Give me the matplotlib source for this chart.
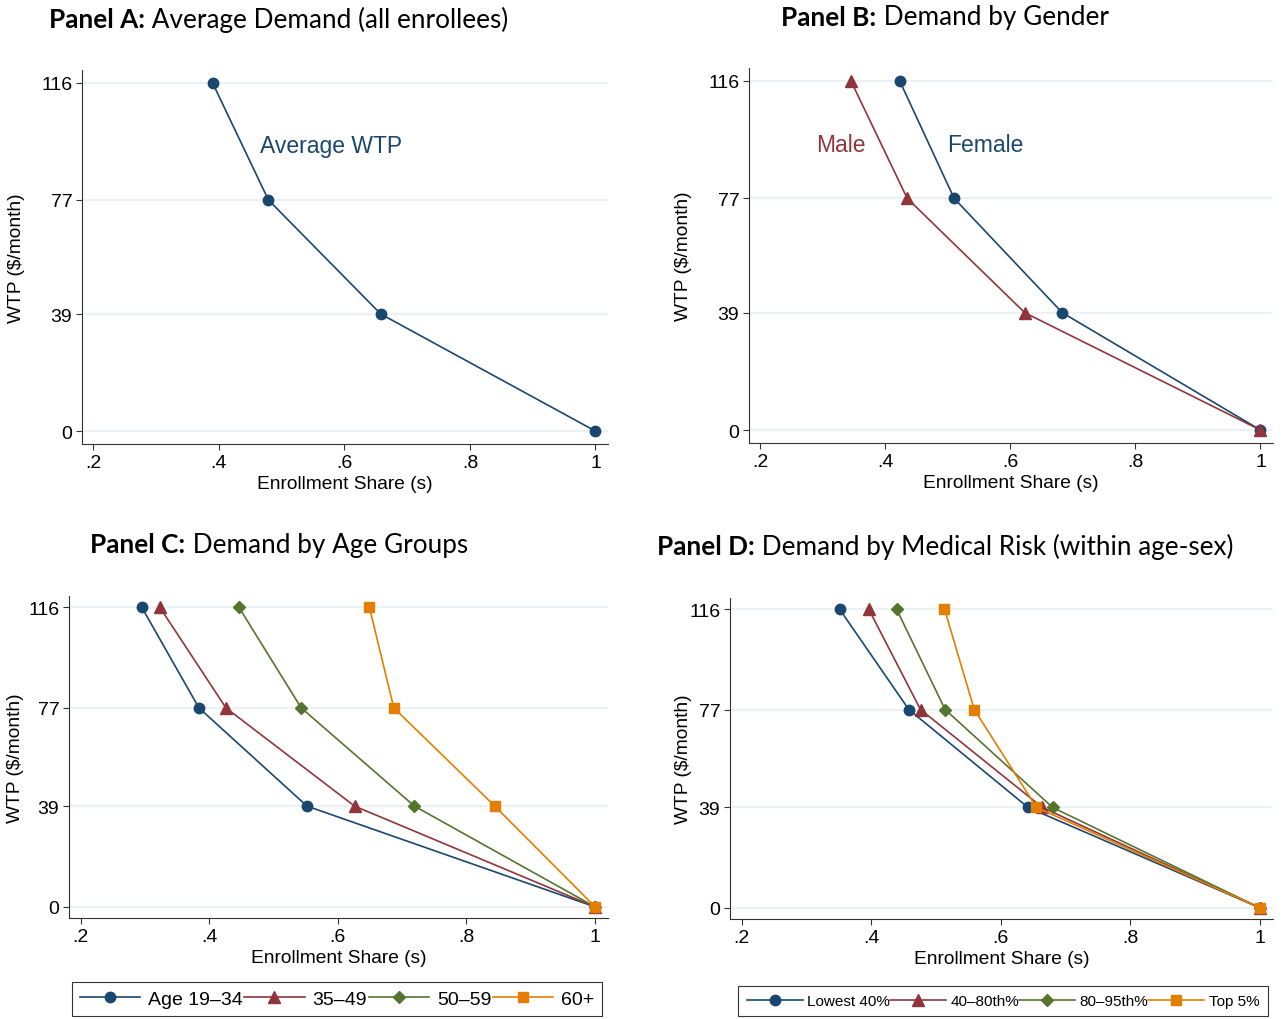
import matplotlib
matplotlib.use("Agg")
import matplotlib.pyplot as plt
import numpy as np

plt.rcParams['font.family'] = ['Liberation Sans', 'DejaVu Sans']

# ---- data ----
wtp = [116, 77, 39, 0]
ytick_vals = [0, 39, 77, 116]
xtick_vals = [0.2, 0.4, 0.6, 0.8, 1.0]
xtick_labels = [".2", ".4", ".6", ".8", "1"]

share_all = [0.390, 0.479, 0.658, 1.0]

share_female = [0.423, 0.510, 0.683, 1.0]
share_male = [0.345, 0.435, 0.623, 1.0]

age_labels = ["Age 19\u201334", "35\u201349", "50\u201359", "60+"]
share_age = [
    [0.295, 0.384, 0.552, 1.0],
    [0.323, 0.426, 0.626, 1.0],
    [0.446, 0.543, 0.719, 1.0],
    [0.649, 0.687, 0.844, 1.0],
]

risk_labels = ["Lowest 40%", "40\u201380th%", "80\u201395th%", "Top 5%"]
share_risk = [
    [0.351, 0.458, 0.642, 1.0],
    [0.396, 0.476, 0.664, 1.0],
    [0.439, 0.514, 0.680, 1.0],
    [0.513, 0.559, 0.655, 1.0],
]

# stata s2color palette
NAVY = "#1a476f"
MAROON = "#90353b"
GREEN = "#55752f"
ORANGE = "#e37e00"
GRID = "#eaf2f3"
colors = [NAVY, MAROON, GREEN, ORANGE]
markers = ["o", "^", "D", "s"]
msizes = [7.5, 8, 6.5, 7.5]

W, H = 1283, 1020
fig = plt.figure(figsize=(W / 100, H / 100), dpi=100)
fig.patch.set_facecolor("white")


def px_axes(left, top, right, bottom):
    return fig.add_axes([left / W, 1 - bottom / H, (right - left) / W, (bottom - top) / H])


def style(ax, ylab_x):
    ax.set_xlim(0.182, 1.02)
    ax.set_ylim(-4.3, 120.3)
    ax.set_xticks(xtick_vals)
    ax.set_xticklabels(xtick_labels)
    ax.set_yticks(ytick_vals)
    ax.set_yticklabels([str(v) for v in ytick_vals])
    for v in ytick_vals:
        ax.axhline(v, color=GRID, lw=1.6, zorder=0)
    ax.spines["top"].set_visible(False)
    ax.spines["right"].set_visible(False)
    ax.spines["left"].set_color("#333333")
    ax.spines["bottom"].set_color("#333333")
    ax.tick_params(direction="out", length=4, width=0.8, labelsize=14, color="#333333", pad=3)
    ax.set_xlabel("Enrollment Share (s)", fontsize=13.8, labelpad=3)
    # y label placed by pixel so it sits where the reference has it
    pos = ax.get_position()
    fig.text(ylab_x / W, pos.y0 + pos.height / 2, "WTP (\\$/month)", fontsize=13.8,
             rotation=90, ha="center", va="center")


def draw(ax, x, c, m, ms, label=None):
    return ax.plot(x, wtp, color=c, marker=m, ms=ms, lw=1.2, mec=c, mfc=c, label=label, clip_on=False)[0]


def two_part_title(xc, yc, bold, rest, size=18.8):
    t1 = fig.text(0, 0, bold, fontsize=size, weight="bold", family="Lato", va="center")
    t2 = fig.text(0, 0, " " + rest, fontsize=size, family="Lato", va="center")
    r = fig.canvas.get_renderer()
    w1 = t1.get_window_extent(r).width
    w2 = t2.get_window_extent(r).width
    x0 = xc - (w1 + w2) / 2
    t1.set_position((x0 / W, 1 - yc / H))
    t2.set_position(((x0 + w1) / W, 1 - yc / H))


# Panel A
axA = px_axes(82, 71, 608, 445)
style(axA, 17)
draw(axA, share_all, NAVY, "o", 7.5)
axA.text(0.466, 95, "Average WTP", color=NAVY, fontsize=16.5, va="center")
two_part_title(279, 20, "Panel A:", "Average Demand (all enrollees)")

# Panel B
axB = px_axes(749, 69, 1273, 444)
style(axB, 683)
draw(axB, share_female, NAVY, "o", 7.5)
draw(axB, share_male, MAROON, "^", 8)
axB.text(0.29, 95, "Male", color=MAROON, fontsize=16.5, va="center")
axB.text(0.499, 95, "Female", color=NAVY, fontsize=16.5, va="center")
two_part_title(945, 18, "Panel B:", "Demand by Gender")

# Panel C
axC = px_axes(69, 597, 608, 919)
style(axC, 16)
hC = []
for x, c, m, ms, lab in zip(share_age, colors, markers, msizes, age_labels):
    hC.append(draw(axC, x, c, m, ms, lab))
two_part_title(279, 545, "Panel C:", "Demand by Age Groups")
legC = fig.legend(handles=hC, loc="center", bbox_to_anchor=(337 / W, 1 - 1000 / H), ncol=4,
                  fontsize=14, frameon=True, fancybox=False, edgecolor="black",
                  handlelength=3.1, handletextpad=0.4, columnspacing=0.1, borderpad=0.4)
legC.get_frame().set_linewidth(0.8)

# Panel D
axD = px_axes(730, 599, 1273, 920)
style(axD, 683)
hD = []
for x, c, m, ms, lab in zip(share_risk, colors, markers, msizes, risk_labels):
    hD.append(draw(axD, x, c, m, ms, lab))
two_part_title(945, 547, "Panel D:", "Demand by Medical Risk (within age-sex)")
legD = fig.legend(handles=hD, loc="center", bbox_to_anchor=(1003 / W, 1 - 1002 / H), ncol=4,
                  fontsize=11, frameon=True, fancybox=False, edgecolor="black",
                  handlelength=3.65, handletextpad=0.3, columnspacing=0.0, borderpad=0.55)
legD.get_frame().set_linewidth(0.8)

fig.savefig("out.png", dpi=100, facecolor="white")
